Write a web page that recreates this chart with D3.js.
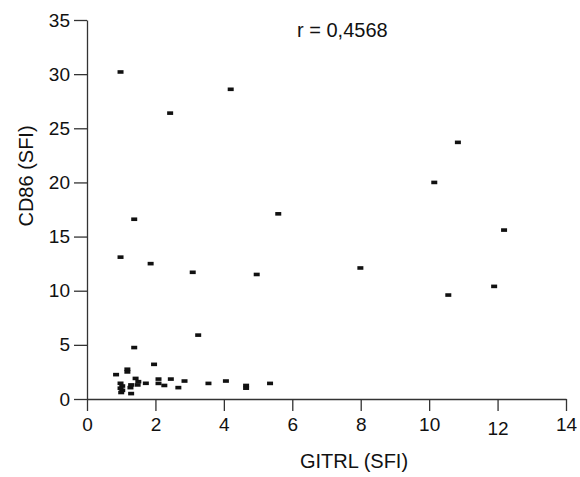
<!DOCTYPE html>
<html>
<head>
<meta charset="utf-8">
<script src="https://cdn.jsdelivr.net/npm/d3@7"></script>
<style>
  html, body { margin: 0; padding: 0; background: #fff; }
  svg text { font-family: "Liberation Sans", Arial, Helvetica, sans-serif; fill: #111; }
  .axis path, .axis line { stroke: #333; stroke-width: 1.3; }
</style>
</head>
<body>
<svg id="chart" width="580" height="477"></svg>
<script>
// GITRL vs CD86 (SFI)
const gitrl = [0.98, 2.43, 4.2, 10.84, 10.15, 1.38, 5.59, 12.19, 0.98, 1.86,
  3.09, 4.96, 7.99, 11.9, 10.56, 3.25, 1.38, 1.96, 0.85, 1.18,
  1.18, 0.98, 1.03, 0.98, 1.03, 1.0, 1.29, 1.27, 1.29, 1.42,
  1.5, 1.48, 1.72, 2.09, 2.09, 2.26, 2.45, 2.67, 2.85, 3.55,
  4.06, 4.65, 4.65, 5.35];
const cd86 = [30.2, 26.4, 28.6, 23.7, 20.0, 16.6, 17.1, 15.6, 13.1, 12.5,
  11.7, 11.5, 12.1, 10.4, 9.6, 5.9, 4.75, 3.2, 2.25, 2.75,
  2.5, 1.45, 1.2, 1.0, 0.8, 0.6, 1.3, 1.05, 0.5, 1.9,
  1.6, 1.3, 1.45, 1.84, 1.44, 1.25, 1.84, 1.05, 1.66, 1.44,
  1.66, 1.25, 1.0, 1.44];
const xTicks = [0, 2, 4, 6, 8, 10, 12, 14];
const yTicks = [0, 5, 10, 15, 20, 25, 30, 35];
const xTitle = "GITRL (SFI)";
const yTitle = "CD86 (SFI)";
const rLabel = "r = 0,4568";

const svg = d3.select("#chart");

const x = d3.scaleLinear().domain([0, 14]).range([87, 566]);
const y = d3.scaleLinear().domain([0, 35]).range([399, 20]);

// ── Axes ──
const xAxis = svg.append("g")
    .attr("class", "axis")
    .attr("transform", `translate(0,${y(0)})`)
    .call(d3.axisBottom(x).tickValues(xTicks).tickSize(12).tickSizeOuter(0).tickPadding(7));

const yAxis = svg.append("g")
    .attr("class", "axis")
    .attr("transform", `translate(${x(0)},0)`)
    .call(d3.axisLeft(y).tickValues(yTicks).tickSize(13).tickSizeOuter(0).tickPadding(4));

svg.selectAll(".axis text")
    .style("font-size", "19px")
    .attr("fill", "#111");

// the "12" label sits a little lower in the original
xAxis.selectAll(".tick text")
    .filter(d => d === 12)
    .attr("y", 23);

// ── Points ──
const pts = gitrl.map((g, i) => ({ g, c: cd86[i] }));
svg.append("g")
  .selectAll("rect")
  .data(pts)
  .join("rect")
    .attr("x", d => x(d.g) - 3)
    .attr("y", d => y(d.c) - 1.8)
    .attr("width", 6)
    .attr("height", 3.6)
    .attr("fill", "#111");

// ── Labels ──
svg.append("text")
    .attr("x", 354)
    .attr("y", 468)
    .attr("text-anchor", "middle")
    .style("font-size", "20px")
    .text(xTitle);

svg.append("text")
    .attr("transform", "translate(33,176) rotate(-90)")
    .attr("text-anchor", "middle")
    .style("font-size", "20px")
    .text(yTitle);

svg.append("text")
    .attr("x", 297)
    .attr("y", 37)
    .style("font-size", "20px")
    .text(rLabel);
</script>
</body>
</html>
